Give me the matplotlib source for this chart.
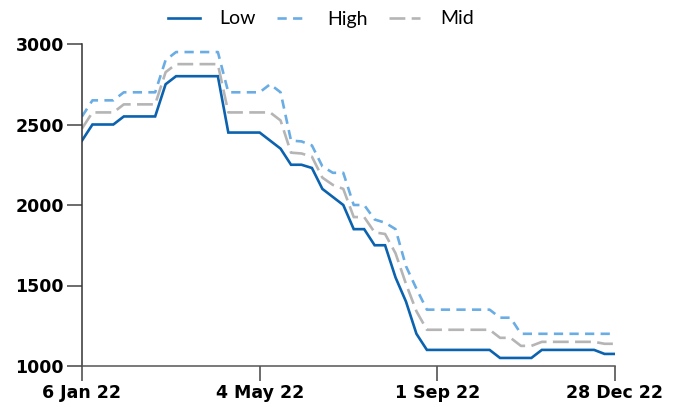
import matplotlib
matplotlib.use("Agg")
import matplotlib.pyplot as plt

tick_positions = [0, 17, 34, 51]
tick_labels = ["6 Jan 22", "4 May 22", "1 Sep 22", "28 Dec 22"]

low = [2400, 2500, 2500, 2500, 2550, 2550, 2550, 2550, 2750, 2800,
       2800, 2800, 2800, 2800, 2450, 2450, 2450, 2450, 2400, 2350,
       2250, 2250, 2230, 2100, 2050, 2000, 1850, 1850, 1750, 1750,
       1550, 1400, 1200, 1100, 1100, 1100, 1100, 1100, 1100, 1100,
       1050, 1050, 1050, 1050, 1100, 1100, 1100, 1100, 1100, 1100,
       1075, 1075]
high = [2550, 2650, 2650, 2650, 2700, 2700, 2700, 2700, 2900, 2950,
        2950, 2950, 2950, 2950, 2700, 2700, 2700, 2700, 2750, 2700,
        2400, 2395, 2370, 2240, 2200, 2200, 2000, 2000, 1910, 1890,
        1850, 1620, 1480, 1350, 1350, 1350, 1350, 1350, 1350, 1350,
        1300, 1300, 1200, 1200, 1200, 1200, 1200, 1200, 1200, 1200,
        1200, 1200]
mid = [2475, 2575, 2575, 2575, 2625, 2625, 2625, 2625, 2825, 2875,
       2875, 2875, 2875, 2875, 2575, 2575, 2575, 2575, 2575, 2525,
       2325, 2320, 2300, 2170, 2125, 2100, 1925, 1925, 1830, 1820,
       1700, 1510, 1340, 1225, 1225, 1225, 1225, 1225, 1225, 1225,
       1175, 1175, 1125, 1125, 1150, 1150, 1150, 1150, 1150, 1150,
       1138, 1138]

x = list(range(len(low)))

fig = plt.figure(figsize=(6.78, 4.07), dpi=100)
ax = fig.add_axes([82/678, 1-366/407, (615-82)/678, (366-44)/407])

lw = 1.9
ax.plot(x, low, color="#0B62AF", lw=lw, label="Low", solid_joinstyle="miter")
ax.plot(x, high, color="#6AADE4", lw=lw, ls=(0, (3.5, 2.4)), label="High")
ax.plot(x, mid, color="#B5B5B5", lw=lw, ls=(0, (6, 2.4)), label="Mid")

ax.set_xlim(0, 51)
ax.set_ylim(1000, 3000)
ax.set_yticks([1000, 1500, 2000, 2500, 3000])
ax.set_xticks(tick_positions)
ax.set_xticklabels(tick_labels)

for s in ["top", "right"]:
    ax.spines[s].set_visible(False)
ax.spines["left"].set_color("#333333")
ax.spines["bottom"].set_color("#555555")
ax.spines["left"].set_linewidth(1.1)
ax.spines["bottom"].set_linewidth(1.1)
ax.tick_params(axis="both", direction="out", length=11, width=1.1,
               colors="#444444", labelcolor="black", labelsize=12.5, pad=2)
for lab in ax.get_xticklabels() + ax.get_yticklabels():
    lab.set_fontweight("bold")
    lab.set_family("DejaVu Sans")

leg = fig.legend(loc="center", bbox_to_anchor=(321/678, 1-19/407), ncol=3,
                 frameon=False, handlelength=1.6,
                 columnspacing=1.1, handletextpad=1.0,
                 prop={"family": "Lato", "size": 14})

fig.savefig("out.png", dpi=100)
